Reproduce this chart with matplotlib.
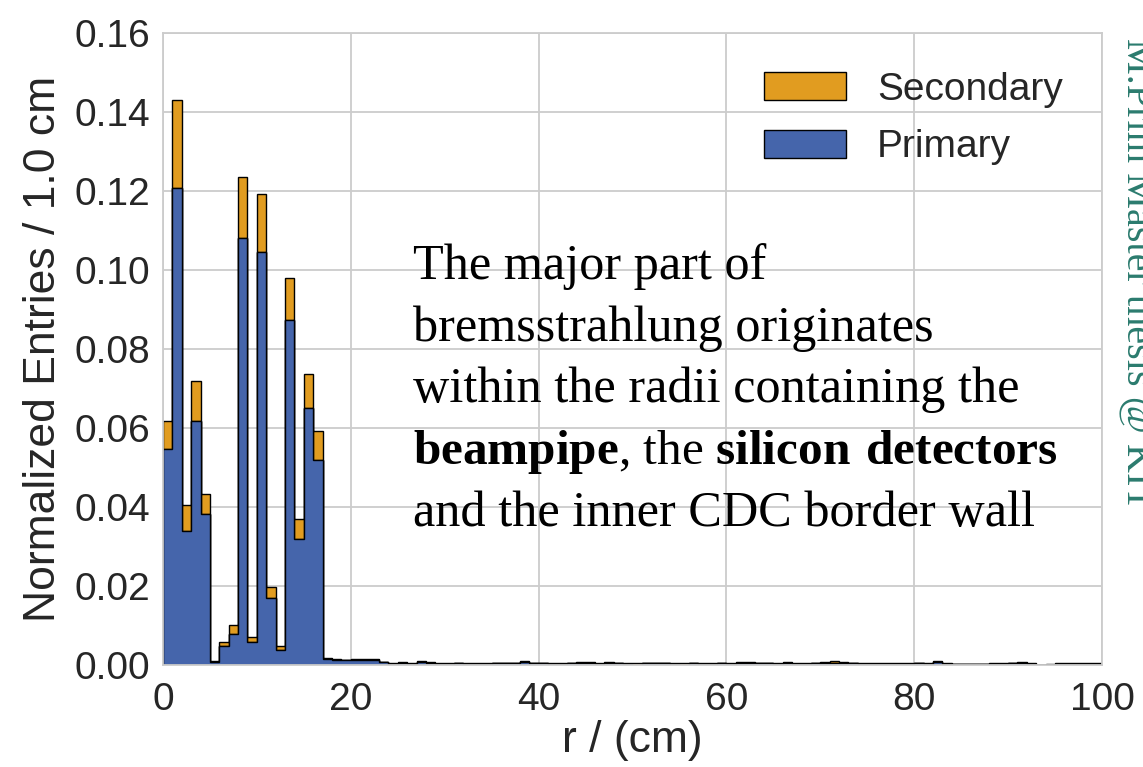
import numpy as np
import matplotlib
matplotlib.use("Agg")
import matplotlib.pyplot as plt

# 1 cm bins from 0 to 100 cm
edges = np.arange(0, 101, 1)
centers = edges[:-1] + 0.5

# r = 0 .. 17 cm: total (primary + secondary) and primary per bin
total_inner = [0.0617, 0.1431, 0.0406, 0.0719, 0.0433, 0.0009, 0.0059, 0.0102, 0.1235,
               0.0071, 0.1192, 0.0197, 0.0048, 0.0979, 0.0369, 0.0736, 0.0592]
primary_inner = [0.0547, 0.1208, 0.0338, 0.0617, 0.0381, 0.0007, 0.0047, 0.0079, 0.1081,
                 0.0057, 0.1046, 0.0169, 0.0038, 0.0874, 0.0320, 0.0651, 0.0519]

# r = 17 .. 100 cm: small tail
total_tail = [0.0018, 0.0015, 0.0013, 0.0014, 0.0015, 0.0014, 0.0008, 0.0004, 0.0008, 0.0004,
              0.0009, 0.0007, 0.0004, 0.0004, 0.0006, 0.0004, 0.0004, 0.0005, 0.0006, 0.0006,
              0.0005, 0.0011, 0.0006, 0.0006, 0.0005, 0.0005, 0.0006, 0.0007, 0.0007, 0.0005,
              0.0007, 0.0006, 0.0005, 0.0004, 0.0006, 0.0006, 0.0006, 0.0005, 0.0004, 0.0006,
              0.0004, 0.0004, 0.0006, 0.0005, 0.0008, 0.0008, 0.0006, 0.0006, 0.0005, 0.0008,
              0.0005, 0.0004, 0.0006, 0.0007, 0.0009, 0.0008, 0.0006, 0.0004, 0.0004, 0.0005,
              0.0005, 0.0004, 0.0004, 0.0006, 0.0006, 0.0010, 0.0005, 0.0003, 0.0003, 0.0003,
              0.0003, 0.0005, 0.0005, 0.0006, 0.0007, 0.0005, 0.0001, 0.0002, 0.0004, 0.0004,
              0.0004, 0.0005, 0.0005]
secondary_tail = [0.0002, 0.0002, 0.0001, 0.0002, 0.0003, 0.0002, 0.0001, 0.0001, 0.0002, 0.0001,
                  0.0002, 0.0002, 0.0001, 0.0001, 0.0002, 0.0001, 0.0001, 0.0002, 0.0002, 0.0002,
                  0.0001, 0.0003, 0.0002, 0.0002, 0.0002, 0.0002, 0.0002, 0.0002, 0.0003, 0.0002,
                  0.0002, 0.0002, 0.0002, 0.0003, 0.0002, 0.0002, 0.0002, 0.0002, 0.0003, 0.0002,
                  0.0002, 0.0002, 0.0002, 0.0002, 0.0003, 0.0002, 0.0002, 0.0002, 0.0002, 0.0004,
                  0.0002, 0.0002, 0.0002, 0.0002, 0.0003, 0.0002, 0.0002, 0.0001, 0.0002, 0.0002,
                  0.0002, 0.0002, 0.0002, 0.0002, 0.0003, 0.0003, 0.0002, 0.0001, 0.0001, 0.0001,
                  0.0001, 0.0002, 0.0002, 0.0002, 0.0002, 0.0002, 0.0001, 0.0001, 0.0002, 0.0002,
                  0.0002, 0.0002, 0.0002]

total = np.array(total_inner + total_tail)
primary = np.array(primary_inner + [t - s for t, s in zip(total_tail, secondary_tail)])
secondary = total - primary

blue = "#4565AB"
orange = "#E19C20"
grey = "#CCCCCC"
text_col = "#262626"

plt.rcParams["font.family"] = ["Liberation Sans", "DejaVu Sans"]
plt.rcParams["text.color"] = text_col
plt.rcParams["axes.labelcolor"] = text_col
plt.rcParams["xtick.color"] = text_col
plt.rcParams["ytick.color"] = text_col
plt.rcParams["mathtext.fontset"] = "custom"
plt.rcParams["mathtext.rm"] = "Liberation Serif"
plt.rcParams["mathtext.bf"] = "Liberation Serif:bold"

fig = plt.figure(figsize=(11.43, 7.67), dpi=100)
ax = fig.add_axes([0.1426, 0.133, 0.8215, 0.824])

ax.hist([centers, centers], bins=edges, weights=[primary, secondary], stacked=True,
        histtype="stepfilled", color=[blue, orange], edgecolor="black", linewidth=1.0,
        label=["Primary", "Secondary"])

ax.set_xlim(0, 100)
ax.set_ylim(0, 0.16)
ax.set_xticks([0, 20, 40, 60, 80, 100])
yt = np.arange(0, 0.161, 0.02)
ax.set_yticks(yt)
ax.set_yticklabels([f"{v:.2f}" for v in yt])
ax.grid(True, color=grey, linewidth=1.3)
ax.set_axisbelow(True)
for s in ax.spines.values():
    s.set_color(grey)
    s.set_linewidth(1.3)
ax.tick_params(axis="both", length=0, labelsize=28)
ax.tick_params(axis="x", pad=12)
ax.tick_params(axis="y", pad=9)

ax.set_xlabel("r / (cm)", fontsize=32, labelpad=2)
ax.set_ylabel("Normalized Entries / 1.0 cm", fontsize=32, labelpad=8)

# Secondary listed above Primary
ax.legend(loc="upper right", frameon=False, fontsize=28, handlelength=2.1,
          handleheight=0.72, labelspacing=0.55, borderaxespad=0.6)

# explanatory note
note = [
    "The major part of",
    "bremsstrahlung originates",
    "within the radii containing the",
    r"$\mathbf{beampipe}$, the $\mathbf{silicon\ detectors}$",
    "and the inner CDC border wall",
]
sizes = [36.2, 36.2, 36.2, 35.5, 36.2]
baselines = [279, 340.5, 402, 464, 526]
for line, fs, yb in zip(note, sizes, baselines):
    fig.text(413 / 1143, 1 - yb / 767, line, family="Liberation Serif", fontsize=fs,
             color="black", ha="left", va="baseline")

# side watermark
fig.text(1119 / 1143, 1 - 38 / 767, "M.Prim Master thesis @ KIT", rotation=270,
         family="Liberation Serif", fontsize=29, color="#2B7B6E", ha="left", va="top")

fig.savefig("out.png", dpi=100)
